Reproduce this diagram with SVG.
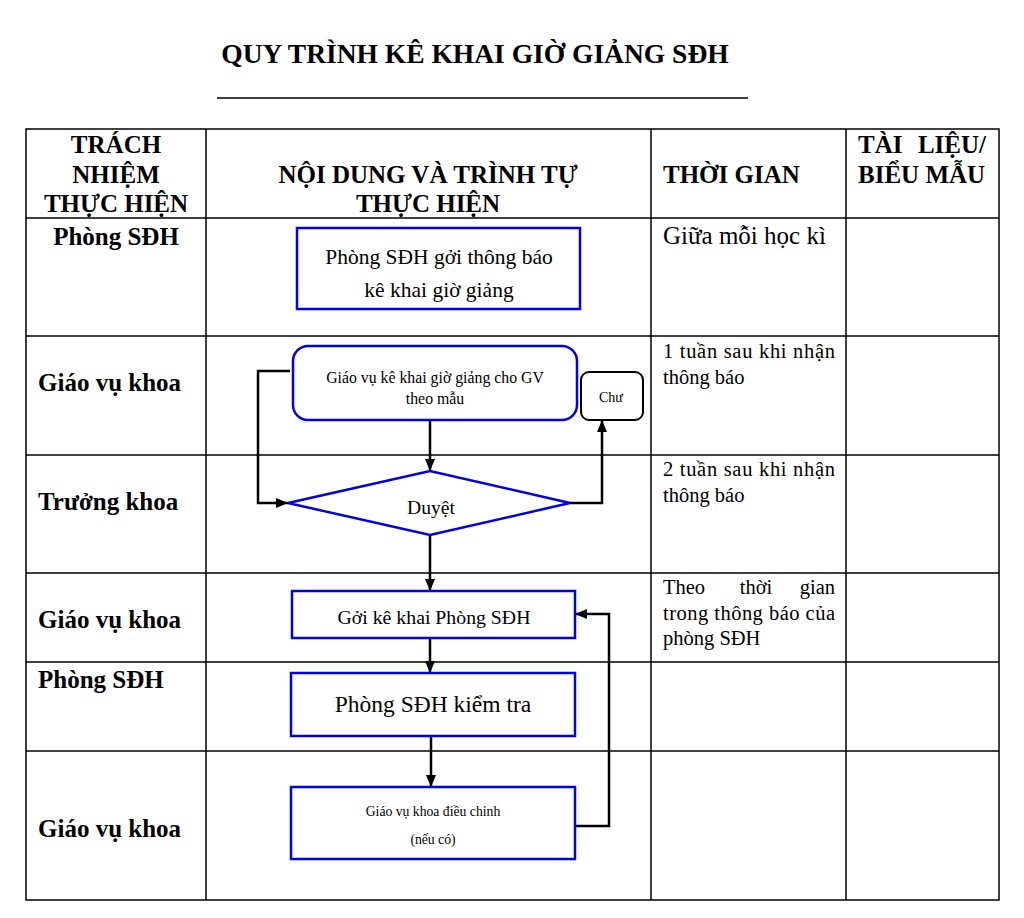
<svg xmlns="http://www.w3.org/2000/svg" width="1024" height="918" viewBox="0 0 1024 918">
<style>
.t{font-family:"Liberation Serif","Times New Roman",serif;fill:#000}
.b{font-weight:bold}
.grid{stroke:#000;stroke-width:1.5;fill:none}
.node{fill:#fff;stroke:#0000e6;stroke-width:2.5}
.conn{fill:none;stroke:#000;stroke-width:2.5}
</style>
<defs>
<marker id="arr" viewBox="0 0 12 10" refX="12" refY="5" markerWidth="12" markerHeight="10" markerUnits="userSpaceOnUse" orient="auto">
<path d="M0,0 L12,5 L0,10 Z" fill="#000"/>
</marker>
</defs>
<rect width="1024" height="918" fill="#fff"/>
<g id="title">
<text class="t b" x="475" y="63" font-size="27.5" text-anchor="middle">QUY TRÌNH KÊ KHAI GIỜ GIẢNG SĐH</text>
<line x1="217" y1="98" x2="748" y2="98" stroke="#000" stroke-width="1.5"/>
</g>
<g id="table">
<rect class="grid" x="26" y="129" width="973" height="771"/>
<line class="grid" x1="206" y1="129" x2="206" y2="900"/>
<line class="grid" x1="651" y1="129" x2="651" y2="900"/>
<line class="grid" x1="846" y1="129" x2="846" y2="900"/>
<line class="grid" x1="26" y1="218" x2="999" y2="218"/>
<line class="grid" x1="26" y1="336" x2="999" y2="336"/>
<line class="grid" x1="26" y1="455" x2="999" y2="455"/>
<line class="grid" x1="26" y1="573" x2="999" y2="573"/>
<line class="grid" x1="26" y1="662" x2="999" y2="662"/>
<line class="grid" x1="26" y1="751" x2="999" y2="751"/>
</g>
<g id="headers">
<text class="t b" font-size="25" text-anchor="middle"><tspan x="116" y="153">TRÁCH</tspan><tspan x="116" y="183">NHIỆM</tspan><tspan x="116" y="212">THỰC HIỆN</tspan></text>
<text class="t b" font-size="25" text-anchor="middle"><tspan x="428" y="183">NỘI DUNG VÀ TRÌNH TỰ</tspan><tspan x="428" y="212">THỰC HIỆN</tspan></text>
<text class="t b" x="663" y="183" font-size="25">THỜI GIAN</text>
<text class="t b" font-size="25"><tspan x="858" y="153">TÀI</tspan><tspan x="986" y="153" text-anchor="end">LIỆU/</tspan></text>
<text class="t b" x="858" y="183" font-size="25">BIỂU MẪU</text>
</g>
<g id="roles">
<text class="t b" x="116" y="245" font-size="25" text-anchor="middle">Phòng SĐH</text>
<text class="t b" x="38" y="391" font-size="25">Giáo vụ khoa</text>
<text class="t b" x="38" y="510" font-size="25">Trưởng khoa</text>
<text class="t b" x="38" y="628" font-size="25">Giáo vụ khoa</text>
<text class="t b" x="38" y="688" font-size="25">Phòng SĐH</text>
<text class="t b" x="38" y="837" font-size="25">Giáo vụ khoa</text>
</g>
<g id="times">
<text class="t" x="663" y="244" font-size="25">Giữa mỗi học kì</text>
<text class="t" x="663" y="358" font-size="20.5" textLength="172" lengthAdjust="spacing">1 tuần sau khi nhận</text>
<text class="t" x="663" y="384" font-size="20.5">thông báo</text>
<text class="t" x="663" y="476" font-size="20.5" textLength="172" lengthAdjust="spacing">2 tuần sau khi nhận</text>
<text class="t" x="663" y="502" font-size="20.5">thông báo</text>
<text class="t" font-size="20.5"><tspan x="663" y="594">Theo</tspan><tspan x="756" y="594" text-anchor="middle">thời</tspan><tspan x="835" y="594" text-anchor="end">gian</tspan></text>
<text class="t" x="663" y="620" font-size="20.5" textLength="172" lengthAdjust="spacing">trong thông báo của</text>
<text class="t" x="663" y="645" font-size="20.5">phòng SĐH</text>
</g>
<g id="connectors">
<path class="conn" d="M430,420 L430,471" marker-end="url(#arr)"/>
<path class="conn" d="M290,371 L258,371 L258,503 L288,503" marker-end="url(#arr)"/>
<path class="conn" d="M570,503 L602,503 L602,420" marker-end="url(#arr)"/>
<path class="conn" d="M430,535 L430,591" marker-end="url(#arr)"/>
<path class="conn" d="M430,638 L430,673" marker-end="url(#arr)"/>
<path class="conn" d="M431,736 L431,787" marker-end="url(#arr)"/>
<path class="conn" d="M575,826 L609,826 L609,614 L575,614" marker-end="url(#arr)"/>
</g>
<g id="n1">
<rect class="node" x="297" y="228" width="283" height="81"/>
<text class="t" font-size="21.5" text-anchor="middle"><tspan x="439" y="264">Phòng SĐH gởi thông báo</tspan><tspan x="439" y="297">kê khai giờ giảng</tspan></text>
</g>
<g id="n2">
<rect class="node" x="293" y="346" width="284" height="74" rx="15"/>
<text class="t" font-size="15.8" text-anchor="middle"><tspan x="435" y="383">Giáo vụ kê khai giờ giảng cho GV</tspan><tspan x="435" y="404">theo mẫu</tspan></text>
</g>
<g id="n3">
<rect x="581" y="372" width="62" height="48" rx="8" fill="#fff" stroke="#000" stroke-width="2"/>
<text class="t" x="611" y="402" font-size="14" text-anchor="middle">Chư</text>
</g>
<g id="n4">
<polygon class="node" points="288,503 430,471 570,503 430,535"/>
<text class="t" x="431" y="514" font-size="19.6" text-anchor="middle">Duyệt</text>
</g>
<g id="n5">
<rect class="node" x="292" y="591" width="283" height="47"/>
<text class="t" x="434" y="624" font-size="19.8" text-anchor="middle">Gởi kê khai Phòng SĐH</text>
</g>
<g id="n6">
<rect class="node" x="291" y="673" width="284" height="63"/>
<text class="t" x="433" y="712" font-size="23.5" text-anchor="middle">Phòng SĐH kiểm tra</text>
</g>
<g id="n7">
<rect class="node" x="291" y="787" width="284" height="72"/>
<text class="t" font-size="13.7" text-anchor="middle"><tspan x="433" y="816">Giáo vụ khoa điều chỉnh</tspan><tspan x="433" y="844">(nếu có)</tspan></text>
</g>
</svg>
